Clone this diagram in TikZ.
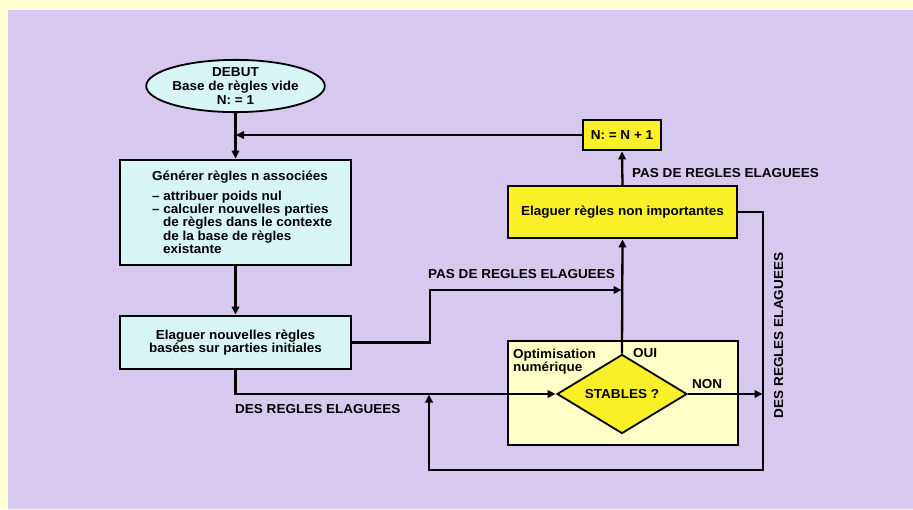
\documentclass[tikz,border=0pt]{standalone}
\usepackage{fontspec}
\setmainfont[FakeStretch=1.04]{Liberation Sans}
\usetikzlibrary{shapes.geometric,arrows.meta}
\definecolor{lav}{RGB}{215,200,239}
\definecolor{paley}{RGB}{255,255,212}
\definecolor{cyanbox}{RGB}{216,245,246}
\definecolor{yelbox}{RGB}{250,240,40}
\definecolor{optbox}{RGB}{255,255,200}
\begin{document}
\begin{tikzpicture}[x=1pt,y=-1pt,
  font=\fontsize{13}{14}\selectfont\bfseries,
  box/.style={draw, line width=1.8pt, inner sep=0pt},
  conn/.style={line width=2.3pt},
  arr/.style={conn, -{Triangle[length=8pt,width=7.5pt]}, shorten >=0.5pt},
  lbl/.style={inner sep=0pt, anchor=base west}]
\useasboundingbox (0,0) rectangle (913,509);
\fill[paley] (0,0) rectangle (913,509);
\fill[lav] (8,10) rectangle (913,509);

% nodes
\node[box, ellipse, fill=cyanbox, minimum width=155pt, minimum height=52pt, align=center]
  (start) at (235.5,86) {DEBUT\\Base de règles vide\\N: = 1};
\node[box, fill=cyanbox, minimum width=231pt, minimum height=105pt]
  (box1) at (235.5,212.5) {\hspace*{14pt}\begin{minipage}{181pt}\fontsize{13}{13.3}\selectfont
    \hspace*{0pt}Générer règles n associées\par\vspace{6pt}
    – attribuer poids nul\par
    – calculer nouvelles parties\par
    \hspace*{11pt}de règles dans le contexte\par
    \hspace*{11pt}de la base de règles\par
    \hspace*{11pt}existante\end{minipage}};
\node[box, fill=cyanbox, minimum width=231pt, minimum height=53pt, align=center,
  font=\fontsize{13}{12.5}\selectfont\bfseries]
  (box2) at (235.5,342.5) {Elaguer nouvelles règles\\basées sur parties initiales};
\node[box, fill=yelbox, minimum width=78pt, minimum height=30pt] (nbox) at (622,135) {N: = N + 1};
\node[box, fill=yelbox, minimum width=229pt, minimum height=52pt] (elag) at (622.5,212) {Elaguer règles non importantes};
\node[box, fill=optbox, minimum width=230pt, minimum height=104pt] (opt) at (623,393) {};
\node[anchor=north west, align=left, inner sep=0pt, font=\fontsize{13}{12}\selectfont\bfseries]
  (optl) at (513,349) {Optimisation\\numérique};
\node[box, diamond, fill=yelbox, minimum width=130pt, minimum height=79pt, aspect=1.65]
  (stab) at (622,394) {STABLES ?};

% junction coordinates
\coordinate (j1) at (622,290);
\coordinate (j2) at (763,394);
\coordinate (j3) at (429,394);

% connectors
\draw[arr] (start.south) -- (box1.north);
\draw[arr] (nbox.west) -- (nbox.west -| start.south);
\draw[arr] (box1.south) -- (box2.north);
\draw[arr] (box2.east) -- ++(78,0) |- (j1);
\draw[arr] (stab.north) -- (elag.south);
\draw[arr] (elag.north) -- (nbox.south);
\draw[arr] (box2.south) |- (stab.west);
\draw[arr] (stab.east) -- (j2);
\draw[arr] (elag.east) -| (763,470) -| (j3);

% labels
\node[lbl] (l1) at (632,177) {PAS DE REGLES ELAGUEES};
\node[lbl] (l2) at (428,278) {PAS DE REGLES ELAGUEES};
\node[lbl] (l3) at (235,413) {DES REGLES ELAGUEES};
\node[inner sep=0pt, rotate=90, anchor=base] (l4) at (783,335.5) {DES REGLES ELAGUEES};
\node[lbl] (oui) at (633,357) {OUI};
\node[lbl] (non) at (692,388) {NON};
\end{tikzpicture}
\end{document}
